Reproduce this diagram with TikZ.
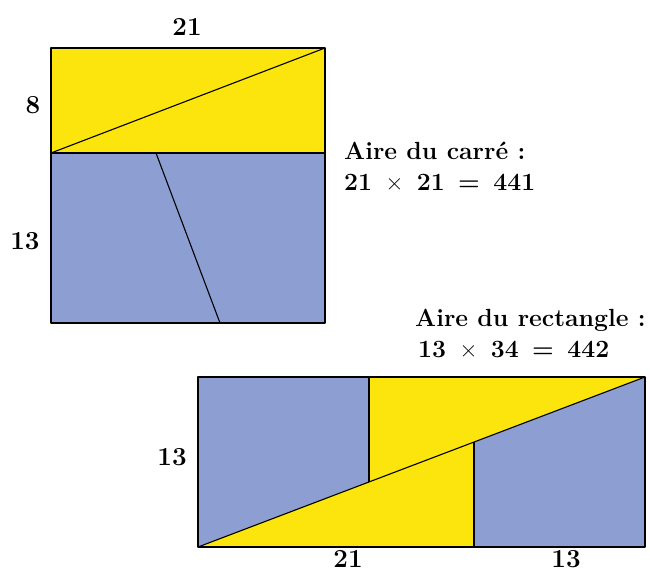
\documentclass[tikz,border=0pt]{standalone}
\usepackage{fontspec}
\definecolor{ylw}{RGB}{251,229,12}
\definecolor{blu}{RGB}{140,158,210}
\newcommand{\tms}{{\mdseries ×}}
\begin{document}
\begin{tikzpicture}[x=1pt,y=-1pt,
  piece/.style={draw=black,line width=1.1pt,line join=round},
  lbl/.style={font=\fontsize{26}{30}\selectfont\bfseries,inner sep=0pt},
  txt/.style={font=\fontsize{24.8}{30}\selectfont\bfseries,inner sep=0pt,anchor=base west}]
\useasboundingbox (0,0) rectangle (650,573);
% square
\coordinate (A) at (51,48);
\coordinate (B) at (325,48);
\coordinate (C) at (325,153);
\coordinate (D) at (51,153);
\coordinate (E) at (325,323);
\coordinate (F) at (51,323);
\coordinate (G) at (156,153);
\coordinate (H) at (220,323);
\fill[ylw] (A) -- (B) -- (C) -- (D) -- cycle;
\fill[blu] (D) -- (C) -- (E) -- (F) -- cycle;
\draw[piece] (A) -- (B) -- (E) -- (F) -- cycle;
\draw[piece] (D) -- (C);
\draw[piece] (D) -- (B);
\draw[piece] (G) -- (H);
% rectangle
\coordinate (P) at (198,377);
\coordinate (Q) at (645,377);
\coordinate (R) at (645,547);
\coordinate (S) at (198,547);
\coordinate (T) at (369,377);
\coordinate (U) at (369,482);
\coordinate (V) at (474,442);
\coordinate (W) at (474,547);
\fill[blu] (P) -- (Q) -- (R) -- (S) -- cycle;
\fill[ylw] (T) -- (Q) -- (U) -- cycle;
\fill[ylw] (S) -- (V) -- (W) -- cycle;
\draw[piece] (P) -- (Q) -- (R) -- (S) -- cycle;
\draw[piece] (S) -- (Q);
\draw[piece] (T) -- (U);
\draw[piece] (V) -- (W);
% labels
\node[lbl] (l21) at (187,27) {21};
\node[lbl] (l8) at (33,105) {8};
\node[lbl] (l13) at (25,241) {13};
\node[lbl] (r13) at (172,457) {13};
\node[lbl] (b21) at (348,559) {21};
\node[lbl] (b13) at (566,559) {13};
\node[txt] (t1a) at (344,159) {Aire du carré :};
\node[txt] (t1b) at (344,190) {21 \,\tms\, 21 \,=\, 441};
\node[txt] (t2a) at (415,326) {Aire du rectangle :};
\node[txt] (t2b) at (418,357) {13 \,\tms\, 34 \,=\, 442};
\end{tikzpicture}
\end{document}
